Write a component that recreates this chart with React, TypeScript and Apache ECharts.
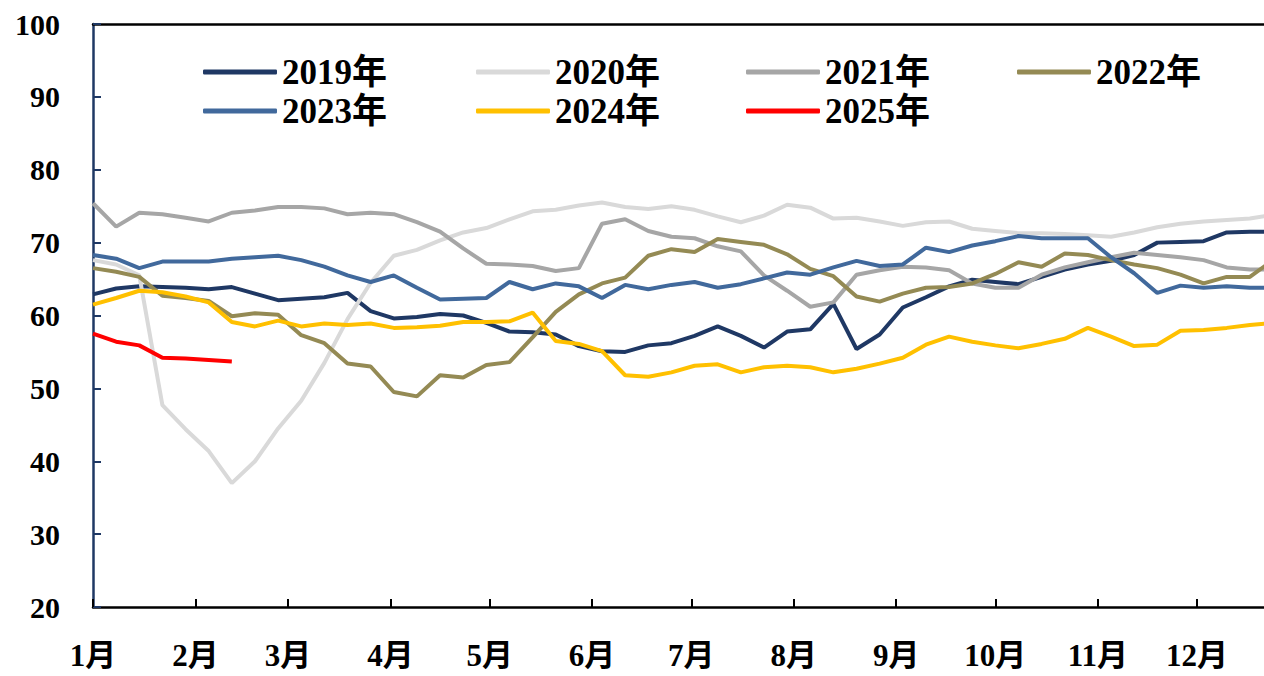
import React, { useEffect, useRef } from "react";
import * as echarts from "echarts";

const years = ["2019年", "2020年", "2021年", "2022年", "2023年", "2024年", "2025年"];
const colors = ["#1f3864", "#d9d9d9", "#a6a6a6", "#948a54", "#41699c", "#ffc000", "#ff0000"];

const monthStartDays = [0, 31, 59, 90, 120, 151, 181, 212, 243, 273, 304, 334];
const monthLabels = ["1月", "2月", "3月", "4月", "5月", "6月", "7月", "8月", "9月", "10月", "11月", "12月"];
const yTicks = [20, 30, 40, 50, 60, 70, 80, 90, 100];

// weekly values (week i -> day 7*i)
const v2019 = [62.9, 63.7, 64.0, 63.9, 63.8, 63.6, 63.9, 63.0, 62.1, 62.3, 62.5, 63.1, 60.6, 59.6, 59.8, 60.2, 60.0, 59.0, 57.8, 57.7, 57.4, 55.8, 55.1, 55.0, 55.9, 56.2, 57.2, 58.5, 57.2, 55.6, 57.8, 58.1, 61.6, 55.4, 57.4, 61.1, 62.5, 64.0, 64.9, 64.6, 64.3, 65.3, 66.3, 67.0, 67.5, 68.3, 70.0, 70.1, 70.2, 71.4, 71.5, 71.5];
const v2020 = [67.6, 67.0, 65.5, 47.7, 44.4, 41.4, 37.0, 40.0, 44.5, 48.3, 53.5, 59.5, 64.5, 68.2, 69.0, 70.3, 71.4, 72.0, 73.2, 74.3, 74.5, 75.1, 75.5, 74.9, 74.6, 75.0, 74.5, 73.6, 72.8, 73.7, 75.2, 74.8, 73.3, 73.4, 72.9, 72.3, 72.8, 72.9, 71.9, 71.6, 71.3, 71.3, 71.2, 71.0, 70.8, 71.4, 72.1, 72.6, 72.9, 73.1, 73.3, 73.8];
const v2021 = [75.4, 72.2, 74.1, 73.9, 73.4, 72.9, 74.1, 74.4, 74.9, 74.9, 74.7, 73.9, 74.1, 73.9, 72.8, 71.5, 69.2, 67.1, 67.0, 66.8, 66.1, 66.5, 72.6, 73.2, 71.6, 70.8, 70.6, 69.5, 68.8, 65.5, 63.4, 61.2, 61.8, 65.6, 66.2, 66.7, 66.6, 66.2, 64.4, 63.8, 63.8, 65.6, 66.6, 67.3, 68.0, 68.6, 68.3, 68.0, 67.6, 66.6, 66.3, 66.3];
const v2022 = [66.5, 66.0, 65.3, 62.7, 62.4, 62.0, 59.9, 60.3, 60.1, 57.3, 56.2, 53.4, 53.0, 49.5, 48.9, 51.8, 51.5, 53.2, 53.6, 57.0, 60.5, 62.9, 64.4, 65.2, 68.2, 69.1, 68.7, 70.5, 70.1, 69.7, 68.4, 66.4, 65.4, 62.6, 61.9, 63.0, 63.8, 63.9, 64.4, 65.7, 67.3, 66.7, 68.5, 68.3, 67.6, 67.0, 66.5, 65.6, 64.4, 65.3, 65.3, 67.6];
const v2023 = [68.3, 67.8, 66.5, 67.4, 67.4, 67.4, 67.8, 68.0, 68.2, 67.6, 66.7, 65.5, 64.6, 65.5, 63.8, 62.2, 62.3, 62.4, 64.6, 63.6, 64.4, 64.0, 62.4, 64.2, 63.6, 64.2, 64.6, 63.8, 64.3, 65.1, 65.9, 65.6, 66.6, 67.5, 66.8, 67.0, 69.3, 68.7, 69.6, 70.2, 70.9, 70.6, 70.6, 70.6, 68.0, 65.8, 63.1, 64.1, 63.8, 64.0, 63.8, 63.8];
const v2024 = [61.5, 62.4, 63.4, 63.2, 62.6, 61.8, 59.1, 58.5, 59.3, 58.5, 58.9, 58.7, 58.9, 58.3, 58.4, 58.6, 59.1, 59.1, 59.2, 60.4, 56.5, 56.1, 55.1, 51.8, 51.6, 52.2, 53.1, 53.3, 52.2, 52.9, 53.1, 52.9, 52.2, 52.7, 53.4, 54.2, 56.0, 57.1, 56.4, 55.9, 55.5, 56.1, 56.8, 58.3, 57.1, 55.8, 56.0, 57.9, 58.0, 58.3, 58.7, 59.0];
const v2025 = [57.5, 56.4, 55.9, 54.2, 54.1, 53.9, 53.7];

const seriesValues = [v2019, v2020, v2021, v2022, v2023, v2024, v2025];

const dayCount = 358;
const days = Array.from({ length: dayCount }, (_, i) => String(i));

const legendLeft = [203, 476, 746, 1017, 203, 476, 746];
const legendTop = [53, 53, 53, 53, 92, 92, 92];

const FONT = '"Times New Roman", "Liberation Serif", "Noto Sans CJK SC", serif';

export default function App() {
  const ref = useRef<HTMLDivElement>(null);
  useEffect(() => {
    if (!ref.current) return;
    const chart = echarts.init(ref.current, null, { renderer: "svg" });
    const isMonthStart = (idx: number) => monthStartDays.indexOf(idx) >= 0;
    chart.setOption({
      animation: false,
      backgroundColor: "#ffffff",
      grid: { left: 93, top: 24, width: 1180, height: 583, containLabel: false, outerBoundsMode: "none" },
      legend: years.map((name, k) => ({
        data: [name],
        left: legendLeft[k],
        top: legendTop[k],
        padding: 0,
        icon: "roundRect",
        itemWidth: 74,
        itemHeight: 5,
        textStyle: { fontFamily: FONT, fontWeight: "bold", fontSize: 35, color: "#000", lineHeight: 38 },
      })),
      xAxis: [
        {
          type: "category",
          data: days,
          boundaryGap: false,
          position: "bottom",
          axisLine: { lineStyle: { color: "#000", width: 2.5 } },
          axisTick: { inside: true, length: 8, interval: (i: number) => isMonthStart(i), lineStyle: { color: "#000", width: 2 } },
          axisLabel: {
            interval: (i: number) => isMonthStart(i),
            formatter: (val: string) => monthLabels[monthStartDays.indexOf(Number(val))] || "",
            fontFamily: FONT,
            fontWeight: "bold",
            fontSize: 31,
            color: "#000",
            margin: 33,
          },
          splitLine: { show: false },
        },
        {
          type: "category",
          data: days,
          boundaryGap: false,
          position: "top",
          axisLine: { lineStyle: { color: "#000", width: 2.5 } },
          axisTick: { show: false },
          axisLabel: { show: false },
          splitLine: { show: false },
        },
      ],
      yAxis: {
        type: "value",
        min: yTicks[0],
        max: yTicks[yTicks.length - 1],
        interval: 10,
        axisLine: { show: true, lineStyle: { color: "#1f3864", width: 2.5 } },
        axisTick: { show: true, inside: true, length: 8, lineStyle: { color: "#1f3864", width: 2 } },
        axisLabel: { fontFamily: FONT, fontWeight: "bold", fontSize: 30, color: "#000", margin: 33 },
        splitLine: { show: false },
      },
      series: years.map((name, k) => ({
        name,
        type: "line",
        xAxisIndex: 0,
        symbol: "none",
        color: colors[k],
        lineStyle: { color: colors[k], width: 4 },
        data: seriesValues[k].map((v, i) => [i * 7, v]),
      })),
    });
    return () => chart.dispose();
  }, []);
  return (
    <div
      ref={ref}
      style={{ position: "fixed", left: 0, top: 0, width: 1264, height: 676, background: "#fff" }}
    />
  );
}
